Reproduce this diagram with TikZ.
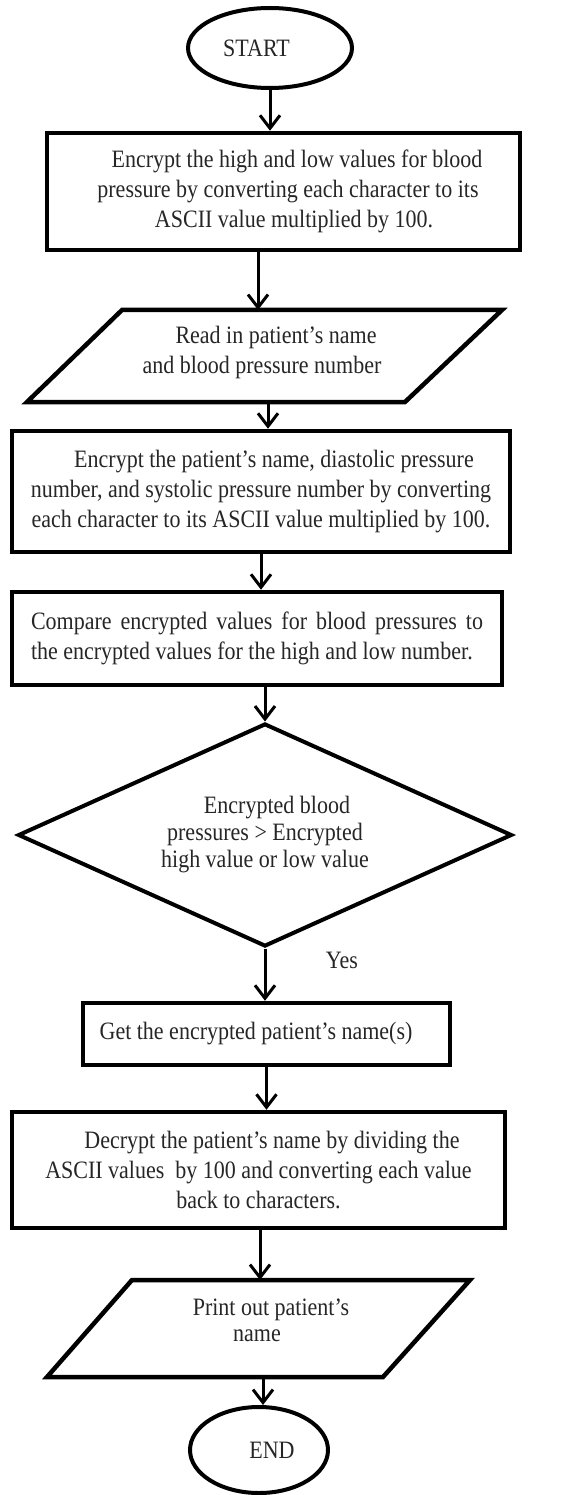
\documentclass[tikz,border=0pt]{standalone}
\usepackage{fontspec}
\setmainfont{Liberation Serif}[FakeStretch=0.88]
\usetikzlibrary{shapes.geometric,arrows.meta,calc}
\begin{document}
\begin{tikzpicture}[x=1pt,y=-1pt,
 every node/.style={font=\fontsize{25}{30}\selectfont, inner sep=0pt, text=black!85},
 term/.style={ellipse, draw, line width=4pt},
 proc/.style={rectangle, draw, line width=4.5pt, align=center},
 dec/.style={diamond, draw, line width=4pt, align=center, aspect=2.2},
 io/.style={draw, line width=4.5pt, line join=miter},
 txt/.style={align=center},
 arr/.style={line width=3pt, -{Straight Barb[length=13pt,width=20pt]}}]
\useasboundingbox (0,0) rectangle (586,1495);

% nodes
\node[term, minimum width=164pt, minimum height=80pt] (start) at (270,48) {START\hspace*{27pt}};

\node[proc, minimum width=473pt, minimum height=117pt] (box1) at (283.5,191.5)
 {\hspace*{27pt}Encrypt the high and low values for blood\\
  \hspace*{9pt}pressure by converting each character to its\\
  \hspace*{21pt}ASCII value multiplied by 100.};

\draw[io] (27,402) -- (122,310) -- (502,310) -- (405,402) -- cycle;
\coordinate (p1n) at (258,310);
\coordinate (p1s) at (268,402);
\node[txt] (p1) at (262,352) {\hspace*{28pt}Read in patient’s name\\and blood pressure number};

\node[proc, minimum width=498pt, minimum height=121pt] (box3) at (261,491.5)
 {\hspace*{26pt}Encrypt the patient’s name, diastolic pressure\\
  number, and systolic pressure number by converting\\
  each character to its ASCII value multiplied by 100.};

\node[proc, minimum width=490pt, minimum height=93pt, text width=452pt, align=justify] (box4) at (257,638.5)
 {Compare encrypted values for blood pressures to\linebreak the encrypted values for the high and low number.};

\node[dec, minimum width=494pt, minimum height=223pt, font=\fontsize{25}{27}\selectfont] (dia) at (265,835)
 {\hspace*{24pt}Encrypted blood\\pressures > Encrypted\\high value or low value};

\node (yes) at (342,960) {Yes};

\node[proc, minimum width=367pt, minimum height=62pt] (box6) at (266.5,1034)
 {Get the encrypted patient’s name(s)\hspace*{21pt}};

\node[proc, minimum width=493pt, minimum height=116pt] (box7) at (258.5,1170)
 {\hspace*{27pt}Decrypt the patient’s name by dividing the\\
  ASCII values~ by 100 and converting each value\\
  back to characters.};

\draw[io] (47,1377) -- (132,1280) -- (470,1280) -- (383,1377) -- cycle;
\coordinate (p2n) at (260,1280);
\coordinate (p2s) at (263,1377);
\node[txt, font=\fontsize{25}{26}\selectfont] (p2) at (257,1320) {\hspace*{28pt}Print out patient’s\\name};

\node[term, minimum width=138pt, minimum height=86pt] (end) at (259,1450) {\hspace*{26pt}END};

% connectors
\draw[arr] (start.south) -- (start.south |- box1.north);
\draw[arr] (box1.south -| p1n) -- (p1n);
\draw[arr] (p1s) -- (p1s |- box3.north);
\draw[arr] (box3.south) -- (box3.south |- box4.north);
\draw[arr] (box4.south -| dia.north) -- (dia.north);
\draw[arr] (dia.south) -- (dia.south |- box6.north);
\draw[arr] (box6.south) -- (box6.south |- box7.north);
\draw[arr] (box7.south -| p2n) -- (p2n);
\draw[arr] (p2s) -- (p2s |- end.north);
\end{tikzpicture}
\end{document}
